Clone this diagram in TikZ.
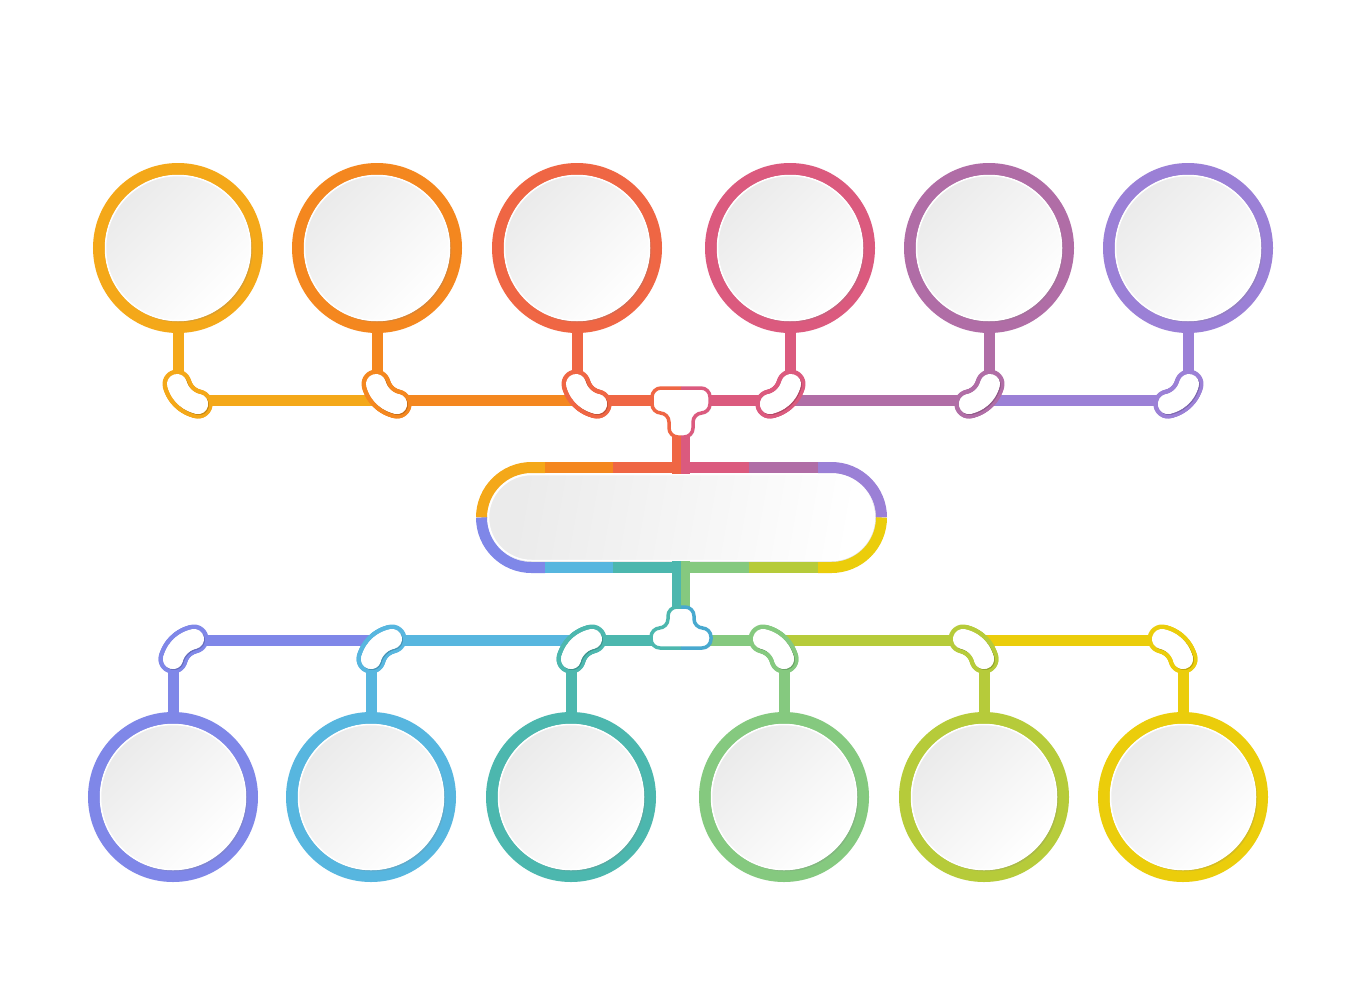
\documentclass[tikz,border=0pt]{standalone}
\usetikzlibrary{shadows,calc,decorations.markings}
\definecolor{cA}{HTML}{F4A819}
\definecolor{cB}{HTML}{F4871F}
\definecolor{cC}{HTML}{EF6644}
\definecolor{cD}{HTML}{DB5A7E}
\definecolor{cE}{HTML}{B06DA6}
\definecolor{cF}{HTML}{9B80D6}
\definecolor{cG}{HTML}{7F87E8}
\definecolor{cH}{HTML}{57B6DF}
\definecolor{cI}{HTML}{4CB7AE}
\definecolor{cJ}{HTML}{85C97F}
\definecolor{cK}{HTML}{B6CB3A}
\definecolor{cL}{HTML}{EBCD0B}
\definecolor{cTb}{HTML}{48A9CF}
\tikzset{
  ring/.style={circle, draw=#1, line width=12pt, minimum size=158pt, inner sep=0pt, fill=white},
  disk/.style={circle, minimum size=145pt, inner sep=0pt, draw=white, line width=1.5pt,
    top color=black!8, bottom color=white, shading angle=45,
    drop shadow={shadow xshift=1.8pt, shadow yshift=-1.8pt, opacity=.22}},
  conn/.style={draw=#1, line width=11pt},
  hubbox/.style={rectangle, rounded corners=43pt, minimum width=386pt, minimum height=86pt,
    inner sep=0pt, draw=white, line width=1.5pt,
    left color=black!8, right color=white, shading angle=80,
    drop shadow={shadow xshift=1.8pt, shadow yshift=-1.8pt, opacity=.22}},
  hubedge/.style={draw=#1, line width=11pt},
  beanfill/.style 2 args={decorate, decoration={markings,
      mark=between positions 0 and 1 step 0.0625 with {\fill[#1] (0,0) circle[radius=#2];},
      mark=at position 1 with {\fill[#1] (0,0) circle[radius=#2];}}},
  pics/topbean/.style n args={2}{code={
    \path[beanfill={#1}{14.5pt}] (#2*-1,-16) .. controls (#2*1.7,-6) and (#2*9.8,1.8) .. (#2*20,4);
    \path[beanfill={#1!82!black}{10pt}, shift={(1,1)}] (#2*-1,-16) .. controls (#2*1.7,-6) and (#2*9.8,1.8) .. (#2*20,4);
    \path[beanfill={white}{10pt}] (#2*-1,-16) .. controls (#2*1.7,-6) and (#2*9.8,1.8) .. (#2*20,4);
  }},
  pics/botbean/.style n args={2}{code={
    \path[beanfill={#1}{14.5pt}] (#2*21,-1) .. controls (#2*10.8,1.2) and (#2*2.7,9) .. (0,19);
    \path[beanfill={#1!82!black}{10pt}, shift={(1,1)}] (#2*21,-1) .. controls (#2*10.8,1.2) and (#2*2.7,9) .. (0,19);
    \path[beanfill={white}{10pt}] (#2*21,-1) .. controls (#2*10.8,1.2) and (#2*2.7,9) .. (0,19);
  }},
}
\begin{document}
\begin{tikzpicture}[x=1pt,y=-1pt]
\useasboundingbox[fill=white] (0,0) rectangle (1362,980);

% ---- circles ----
\foreach \i/\x/\c in {1/178/cA,2/377/cB,3/577/cC,4/790/cD,5/989/cE,6/1188/cF}{
  \node[ring=\c] (t\i) at (\x,248) {};
  \node[disk] (td\i) at (t\i) {};
  \coordinate (tj\i) at (\x,400);
}
\foreach \i/\x/\c in {1/173/cG,2/371/cH,3/571/cI,4/784/cJ,5/984/cK,6/1183/cL}{
  \node[ring=\c] (b\i) at (\x,797) {};
  \node[disk] (bd\i) at (b\i) {};
  \coordinate (bj\i) at (\x,640);
}
\coordinate (tT) at (681,400);
\coordinate (bT) at (681,641);

% ---- hub ----
\node[hubbox] (hub) at (681.5,517.5) {};

% ---- stems to circles ----
\foreach \i/\c in {1/cA,2/cB,3/cC,4/cD,5/cE,6/cF}{
  \draw[conn=\c] (t\i.south) -- ($(tj\i)+(0,-15)$);
}
\foreach \i/\c in {1/cG,2/cH,3/cI,4/cJ,5/cK,6/cL}{
  \draw[conn=\c] (b\i.north) -- ($(bj\i)+(0,15)$);
}

% ---- horizontal bars ----
\draw[conn=cA] (tj1) -- (tj2);
\draw[conn=cB] (tj2) -- (tj3);
\draw[conn=cC] (tj3) -- (tT);
\draw[conn=cD] (tT) -- (tj4);
\draw[conn=cE] (tj4) -- (tj5);
\draw[conn=cF] (tj5) -- (tj6);
\draw[conn=cG] (bj1) -- (bj2);
\draw[conn=cH] (bj2) -- (bj3);
\draw[conn=cI] (bj3) -- (bj3 -| bT);
\draw[conn=cJ] (bj3 -| bT) -- (bj4);
\draw[conn=cK] (bj4) -- (bj5);
\draw[conn=cL] (bj5) -- (bj6);

% ---- vertical stems between T pieces and hub ----
\draw[draw=cC, line width=9pt] ($(tT)+(-4.5,20)$) -- ($(tT |- hub.north)+(-4.5,0)$);
\draw[draw=cD, line width=9pt] ($(tT)+(4.5,20)$) -- ($(tT |- hub.north)+(4.5,0)$);
\draw[draw=cI, line width=9pt] ($(bT)+(-4.5,-20)$) -- ($(bT |- hub.south)+(-4.5,0)$);
\draw[draw=cJ, line width=9pt] ($(bT)+(4.5,-20)$) -- ($(bT |- hub.south)+(4.5,0)$);

% ---- hub border ----
\draw[hubedge=cA] (481.5,517.5) .. controls (481.5,489.9) and (503.9,467.5) .. (531.5,467.5) -- (545,467.5);
\draw[hubedge=cB] (545,467.5) -- (613,467.5);
\draw[hubedge=cC] (613,467.5) -- (681,467.5);
\draw[hubedge=cD] (681,467.5) -- (749,467.5);
\draw[hubedge=cE] (749,467.5) -- (818,467.5);
\draw[hubedge=cF] (818,467.5) -- (831.5,467.5) .. controls (859.1,467.5) and (881.5,489.9) .. (881.5,517.5);
\draw[hubedge=cG] (481.5,517.5) .. controls (481.5,545.1) and (503.9,567.5) .. (531.5,567.5) -- (545,567.5);
\draw[hubedge=cH] (545,567.5) -- (613,567.5);
\draw[hubedge=cI] (613,567.5) -- (681,567.5);
\draw[hubedge=cJ] (681,567.5) -- (749,567.5);
\draw[hubedge=cK] (749,567.5) -- (818,567.5);
\draw[hubedge=cL] (818,567.5) -- (831.5,567.5) .. controls (859.1,567.5) and (881.5,545.1) .. (881.5,517.5);

% ---- beans ----
\pic at (tj1) {topbean={cA}{1}};
\pic at (tj2) {topbean={cB}{1}};
\pic at (tj3) {topbean={cC}{1}};
\pic at (tj4) {topbean={cD}{-1}};
\pic at (tj5) {topbean={cE}{-1}};
\pic at (tj6) {topbean={cF}{-1}};
\pic at (bj1) {botbean={cG}{1}};
\pic at (bj2) {botbean={cH}{1}};
\pic at (bj3) {botbean={cI}{1}};
\pic at (bj4) {botbean={cJ}{-1}};
\pic at (bj5) {botbean={cK}{-1}};
\pic at (bj6) {botbean={cL}{-1}};

% ---- T pieces ----
\def\tshapeTop{($(tT)+(-29,-12)$) -- ($(tT)+(29,-12)$) -- ($(tT)+(29,13)$) -- ($(tT)+(12,13)$) -- ($(tT)+(12,37)$) -- ($(tT)+(-12,37)$) -- ($(tT)+(-12,13)$) -- ($(tT)+(-29,13)$) -- cycle}
\fill[white, rounded corners=9pt, drop shadow={shadow xshift=1.5pt, shadow yshift=-1.5pt, opacity=.2}] \tshapeTop;
\begin{scope}
  \clip ($(tT)+(-40,-20)$) rectangle ($(tT)+(0,45)$);
  \draw[cC, line width=3.5pt, rounded corners=9pt] \tshapeTop;
\end{scope}
\begin{scope}
  \clip ($(tT)+(0,-20)$) rectangle ($(tT)+(40,45)$);
  \draw[cD, line width=3.5pt, rounded corners=9pt] \tshapeTop;
\end{scope}
\def\tshapeBot{($(bT)+(-30,7)$) -- ($(bT)+(30,7)$) -- ($(bT)+(30,-13)$) -- ($(bT)+(13,-13)$) -- ($(bT)+(13,-34)$) -- ($(bT)+(-13,-34)$) -- ($(bT)+(-13,-13)$) -- ($(bT)+(-30,-13)$) -- cycle}
\fill[white, rounded corners=9pt, drop shadow={shadow xshift=1.5pt, shadow yshift=-1.5pt, opacity=.2}] \tshapeBot;
\begin{scope}
  \clip ($(bT)+(-40,-45)$) rectangle ($(bT)+(0,15)$);
  \draw[cI, line width=3.5pt, rounded corners=9pt] \tshapeBot;
\end{scope}
\begin{scope}
  \clip ($(bT)+(0,-45)$) rectangle ($(bT)+(40,15)$);
  \draw[cTb, line width=3.5pt, rounded corners=9pt] \tshapeBot;
\end{scope}
\end{tikzpicture}
\end{document}
